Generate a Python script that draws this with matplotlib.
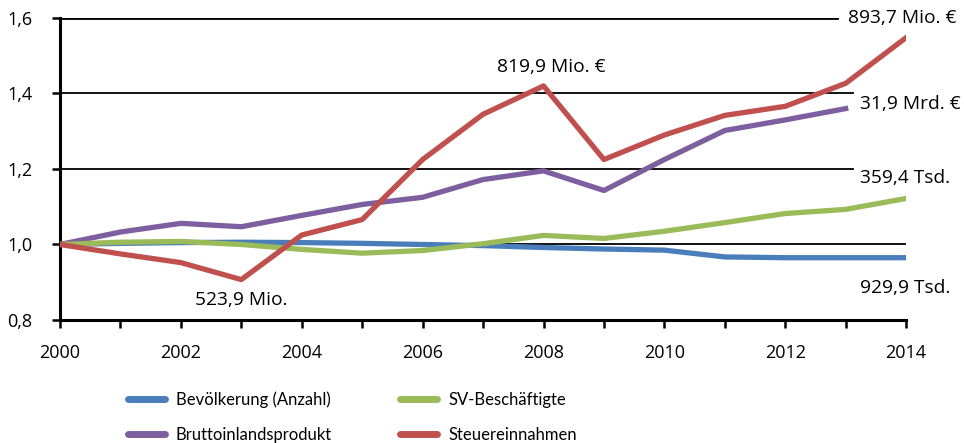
import matplotlib.pyplot as plt
from matplotlib.ticker import FuncFormatter, MultipleLocator

plt.rcParams['font.family'] = ['Open Sans', 'DejaVu Sans']

# Indexwerte (2000 = 1,0)
jahre = list(range(2000, 2015))
bevoelkerung = [1.0, 1.003, 1.005, 1.006, 1.005, 1.003, 1.0, 0.997, 0.992, 0.988,
                0.985, 0.967, 0.965, 0.965, 0.965]
bip = [1.0, 1.033, 1.056, 1.047, 1.077, 1.106, 1.125, 1.172, 1.195, 1.143,
       1.225, 1.302, 1.33, 1.36]
sv_beschaeftigte = [1.0, 1.006, 1.008, 1.0, 0.987, 0.977, 0.984, 1.002, 1.024, 1.016,
                    1.035, 1.058, 1.082, 1.093, 1.122]
steuern = [1.0, 0.975, 0.952, 0.907, 1.025, 1.066, 1.225, 1.345, 1.42, 1.225,
           1.29, 1.342, 1.366, 1.427, 1.548]

fig = plt.figure(figsize=(9.64, 4.43), dpi=100)
ax = fig.add_axes([0.0622, 0.2777, 0.8778, 0.6817])

# Gitternetz
ax.axhline(1.6, xmax=0.918, color='black', lw=2, zorder=1)
ax.axhline(1.4, xmax=0.937, color='black', lw=1.3, zorder=1)
ax.axhline(1.2, xmax=0.937, color='black', lw=1.3, zorder=1)
ax.axhline(1.0, color='black', lw=1.3, zorder=1)

lw = 3.8
l1, = ax.plot(jahre, bevoelkerung, color='#4a7ebb', lw=lw, label='Bevölkerung (Anzahl)', zorder=3)
l2, = ax.plot(jahre[:len(bip)], bip, color='#7d5fa0', lw=lw, label='Bruttoinlandsprodukt', zorder=3)
l3, = ax.plot(jahre, sv_beschaeftigte, color='#9bbb59', lw=lw, label='SV-Beschäftigte', zorder=3)
l4, = ax.plot(jahre, steuern, color='#c0504d', lw=lw, label='Steuereinnahmen', zorder=4)

ax.set_xlim(2000, 2014)
ax.set_ylim(0.8, 1.6)
ax.xaxis.set_major_locator(MultipleLocator(2))
ax.xaxis.set_minor_locator(MultipleLocator(1))
ax.yaxis.set_major_locator(MultipleLocator(0.2))
ax.yaxis.set_major_formatter(FuncFormatter(lambda v, p: f'{v:.1f}'.replace('.', ',')))

for s in ['top', 'right']:
    ax.spines[s].set_visible(False)
for s in ['left', 'bottom']:
    ax.spines[s].set_linewidth(2.2)
ax.tick_params(axis='both', which='both', width=1.8, labelsize=13, direction='out')
ax.tick_params(axis='y', length=6, pad=14)
ax.tick_params(axis='x', which='both', length=6, pad=11)

fs = 13.8
ax.text(2013.93, 1.6, '893,7 Mio. €', fontsize=fs, ha='center', va='center', clip_on=False)
ax.text(2008.12, 1.47, '819,9 Mio. €', fontsize=fs, ha='center', va='center')
ax.text(2014.07, 1.372, '31,9 Mrd. €', fontsize=fs, ha='center', va='center', clip_on=False)
ax.text(2013.98, 1.176, '359,4 Tsd.', fontsize=fs, ha='center', va='center', clip_on=False)
ax.text(2013.98, 0.885, '929,9 Tsd.', fontsize=fs, ha='center', va='center', clip_on=False)
ax.text(2003.0, 0.853, '523,9 Mio.', fontsize=fs, ha='center', va='center')

leg = fig.legend(handles=[l1, l2, l3, l4], ncol=2, loc='upper left',
                 bbox_to_anchor=(0.133, 0.117), frameon=False,
                 prop={'family': 'Lato', 'size': 12},
                 handlelength=2.2, handletextpad=0.66, columnspacing=4.1,
                 labelspacing=1.17, borderaxespad=0, borderpad=0)
for h in leg.get_lines():
    h.set_linewidth(5)
    h.set_solid_capstyle('round')

fig.savefig('out.png', dpi=100)
